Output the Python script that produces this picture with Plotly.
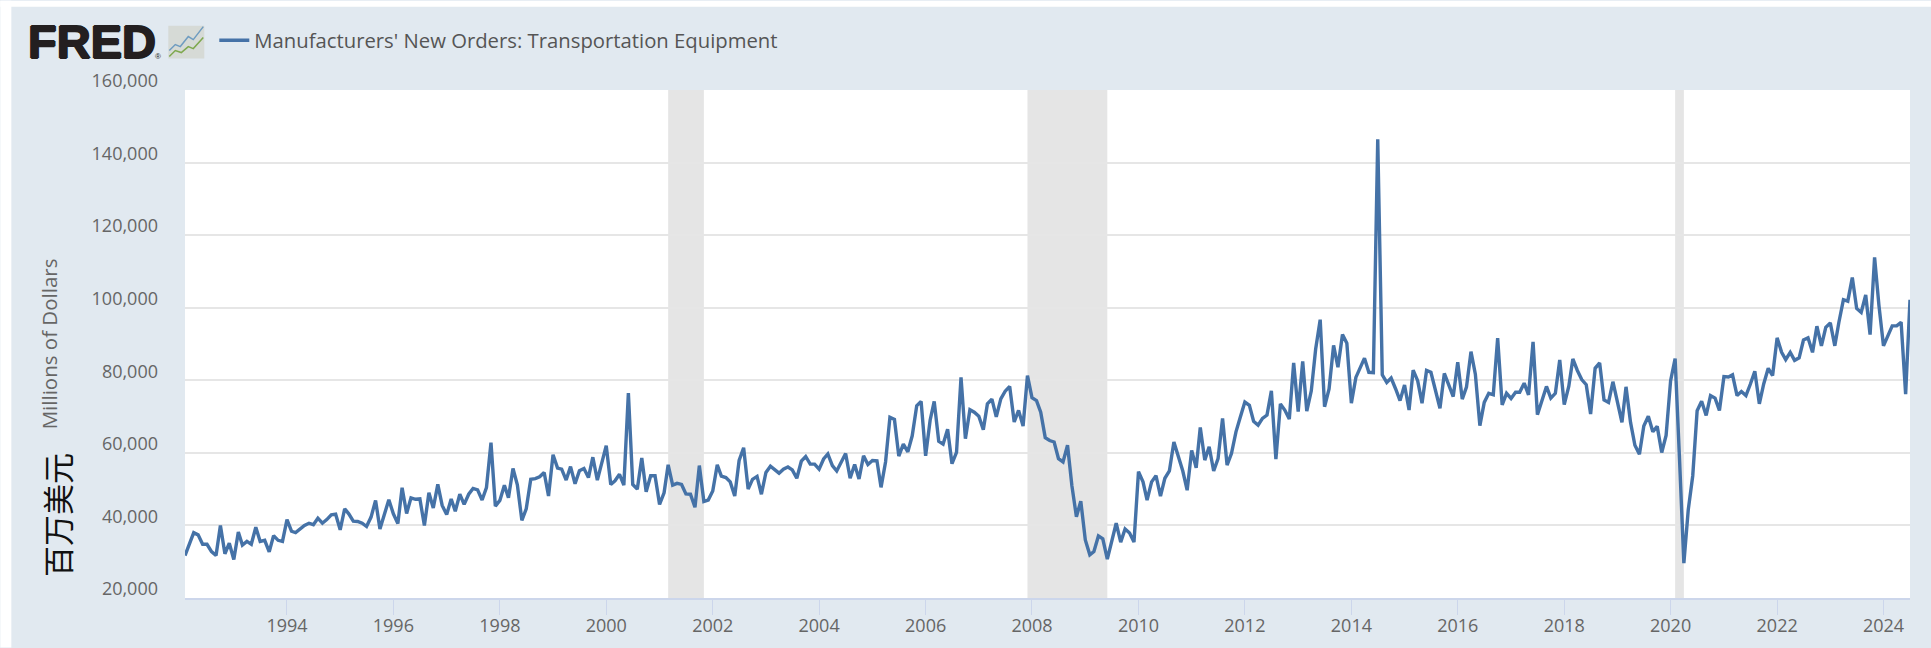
import pandas as pd
import plotly.graph_objects as go

orders_thousands = [
 31.7,34.5,38,37.4,34.8,34.8,32.8,31.7,40,32.2,35.1,30.6,38.2,34.6,35.6,34.8,39.5,35.6,35.9,32.7,
 37.2,35.9,35.6,41.6,38.4,38,39.1,40,40.6,40.2,42,40.6,41.6,42.9,43.1,38.8,44.6,43.2,41.2,41.1,
 40.6,39.7,42.3,46.9,39,42.8,47.1,43.2,40.5,
 50.4,43.3,47.6,47.2,47.3,40,49,44.8,51.3,45.5,43,47.3,43.9,48.6,45.8,48.6,50.2,49.8,47,50.4,
 62.8,45.3,46.9,51.1,47.6,55.7,51.2,41.4,44.6,52.7,52.9,53.4,54.6,48.1,59.5,55.8,55.5,52.5,56.2,51.5,
 55.1,55.7,53.2,58.8,52.5,57.4,62,51.3,52.3,
 54.1,51.1,76.5,51.3,50,58.6,49.3,53.7,53.7,45.8,49,56.7,51.1,51.6,51.3,48.7,48.6,45,56.5,46.6,
 47,49.5,56.7,53.6,53.2,52,48.1,57.9,61.4,50,52.7,53.5,48.6,54.6,56.3,55.5,54.4,55.5,56.1,55.3,
 53,57.7,59,56.9,56.9,55.5,58.3,59.7,56.5,
 55,57.5,59.8,53,56.8,52.8,59.2,56.8,57.9,57.8,50.5,57.5,69.8,69.2,59.1,62.4,60.3,64.7,73,74.2,
 59.2,69,74.2,63.2,62.4,66.5,57,60.1,80.8,63.9,71.9,71.2,70.1,66.4,73.5,74.8,69.9,74.9,77,78.3,
 68.5,71.7,67.4,81.3,75.2,74.4,71.2,64.2,
 63.4,63,58.4,57.5,62.1,50.9,42.4,46.7,36,31.9,32.8,37.1,36.3,30.7,35.9,40.6,35.4,39,37.9,35.4,
 54.8,52,47,52,53.7,48.1,53,55,63,59.2,55,49.7,60.7,55.9,67,58,61.7,55,58.4,69.5,
 56.6,59.8,65.8,69.9,74,73.1,68.7,67.6,69.5,
 70.4,77.1,58.3,73.5,71.8,69.3,84.8,71.4,85.2,71.5,77.1,88.6,96.7,72.7,77.6,89.6,83.6,92.6,90.2,73.7,
 80.8,83.1,86.1,82.2,82.1,146.4,81.5,79.4,80.6,77.6,74.4,78.7,71.8,82.8,79.9,73.7,82.7,82.2,77.1,72.3,
 81.9,78.5,75.5,85,74.8,78.1,87.9,81.7,
 67.5,73.9,76.4,76,91.6,73.2,76.4,75,76.7,76.7,79.2,76,90.6,70.5,74.4,78.3,75.1,76.4,85.6,73.3,
 78.3,85.9,82.7,80.2,78.8,70.7,83.3,84.8,74.6,73.9,79.6,73.9,68.4,78.2,68.4,62.1,59.6,67.4,70.1,65.8,
 67.3,60.1,64.8,79.9,86,59.4,29.6,44.3,53.7,
 71.6,74.2,70.3,75.8,75.1,71.7,81,80.9,81.5,75.8,76.9,75.8,78.9,82.5,73.5,79,83.3,81.3,91.7,87.7,
 85.7,87.7,85.5,86.2,91.1,91.7,87.7,94.9,89.5,94.6,95.8,89.5,96,102.2,101.8,108.3,99.8,98.7,103.5,92.6,
 113.9,100.6,89.5,92.5,95,95,96,76.2,102.2,
]
months = pd.date_range("1992-02-01", "2024-07-01", freq="MS")
assert len(months) == len(orders_thousands), (len(months), len(orders_thousands))
orders = [v * 1000 for v in orders_thousands]

series_name = "Manufacturers' New Orders: Transportation Equipment"
recessions = [("2001-03-01", "2001-11-01"), ("2007-12-01", "2009-06-01"), ("2020-02-01", "2020-04-01")]
year_ticks = list(range(1994, 2026, 2))
y_ticks = list(range(20000, 180000, 20000))

W, H = 1931, 648
L, R, T, B = 184.7, 1910.0, 89.5, 598.5
PANEL = "#e1e9f0"
TEXT = "#666666"
FONT = "Open Sans"

def px(x):
    return (x - L) / (R - L)
def py(y):
    return (B - y) / (B - T)

def path(points):
    return "M " + " L ".join(f"{px(a):.5f},{py(b):.5f}" for a, b in points)

fig = go.Figure(go.Scatter(x=months, y=orders, mode="lines", name=series_name,
                           line=dict(color="#4572a7", width=3.4)))

shapes = [dict(type="rect", xref="x", yref="paper", x0=a, x1=b, y0=0, y1=1,
               fillcolor="#e5e5e5", line_width=0, layer="below") for a, b in recessions]
# white page margin around the panel
shapes += [
    dict(type="rect", xref="paper", yref="paper", x0=px(0), x1=px(11), y0=py(H), y1=py(0),
         fillcolor="white", line_width=0, layer="below"),
    dict(type="rect", xref="paper", yref="paper", x0=px(0), x1=px(W), y0=py(6), y1=py(0),
         fillcolor="white", line_width=0, layer="below"),
]
# FRED logo icon
shapes += [
    dict(type="rect", xref="paper", yref="paper", x0=px(168), x1=px(204), y0=py(58), y1=py(25),
         fillcolor="#d6dad6", line_width=0),
    dict(type="path", xref="paper", yref="paper",
         path=path([(169, 50), (175, 44), (180, 46), (188, 36), (193, 39), (203, 26)]),
         line=dict(color="#6f9cc0", width=1.5)),
    dict(type="path", xref="paper", yref="paper",
         path=path([(169, 56), (175, 50), (181, 52), (188, 46), (193, 48), (203, 37)]),
         line=dict(color="#7ea84e", width=1.5)),
]

logo_font = dict(family="Liberation Sans", size=47, color="#231f20",
                 shadow="1px 0 0 #231f20, -1px 0 0 #231f20, 0 1px 0 #231f20, 0 -1px 0 #231f20")
annotations = [
    dict(xref="paper", yref="paper", x=px(26), y=py(41), text="<b>FRED</b>", showarrow=False,
         xanchor="left", yanchor="middle", font=logo_font),
    dict(xref="paper", yref="paper", x=px(158), y=py(56), text="®", showarrow=False,
         xanchor="center", yanchor="middle", font=dict(family="Liberation Sans", size=8, color="#231f20")),
    dict(xref="paper", yref="paper", x=px(49), y=py(344), text="Millions of Dollars", textangle=-90,
         showarrow=False, xanchor="center", yanchor="middle", font=dict(family=FONT, size=20.5, color=TEXT)),
    dict(xref="paper", yref="paper", x=px(56), y=py(515), text="百万美元", textangle=-90,
         showarrow=False, xanchor="center", yanchor="middle",
         font=dict(family="Noto Sans CJK SC", size=31, color="#111111")),
]

fig.update_layout(
    width=W, height=H, autosize=False,
    margin=dict(l=L, r=W - R, t=T, b=H - B, pad=0, autoexpand=False),
    paper_bgcolor=PANEL, plot_bgcolor="white",
    font=dict(family=FONT, size=18, color=TEXT),
    shapes=shapes, annotations=annotations,
    showlegend=True,
    legend=dict(x=px(214), y=py(40), xanchor="left", yanchor="middle", orientation="h",
                bgcolor="rgba(0,0,0,0)", font=dict(family=FONT, size=20.3, color="#555555"),
                itemwidth=30),
    xaxis=dict(range=[months[0], months[-1]], type="date", automargin=False,
               tickmode="array",
               tickvals=[f"{y}-01-01" for y in year_ticks if y <= 2024],
               ticktext=[str(y) for y in year_ticks if y <= 2024],
               showgrid=False, zeroline=False, showline=True, linecolor="#ccd6eb", linewidth=2,
               ticks="outside", ticklen=15, tickwidth=1, tickcolor="#ccd6eb",
               ticklabelstandoff=-5,
               tickfont=dict(family=FONT, size=18, color=TEXT)),
    yaxis=dict(range=[20000, 160000], tickmode="array", tickvals=y_ticks, automargin=False,
               ticktext=[f"{v:,}" for v in y_ticks],
               showgrid=True, gridcolor="#e6e6e6", gridwidth=2, zeroline=False, showline=False,
               ticks="", ticklabelstandoff=26, ticklabelshift=-9,
               tickfont=dict(family=FONT, size=18, color=TEXT)),
)

fig.write_html("out.html", config=dict(displayModeBar=False),
               post_script="document.body.style.margin='0';document.body.style.overflow='hidden';")
